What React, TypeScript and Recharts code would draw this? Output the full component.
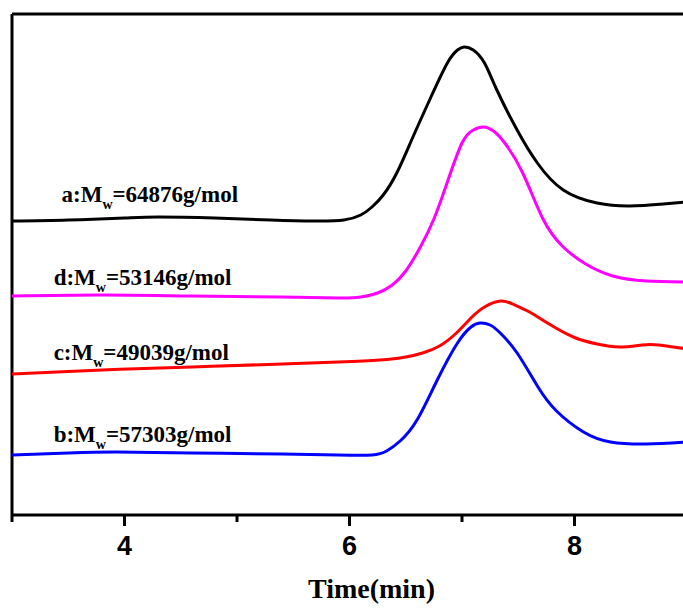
import {
  Line,
  LineChart,
  ReferenceDot,
  ReferenceLine,
  XAxis,
  YAxis,
} from 'recharts';

// GPC traces, time (min) vs detector signal (offset per sample)
const timeTicks = [3, 4, 5, 6, 7, 8, 9];
const majorTicks = [4, 6, 8];

const aTime = [3.0, 3.5, 4.0, 4.3, 4.8, 5.3, 5.7, 5.95, 6.1, 6.2, 6.3, 6.42, 6.56, 6.72, 6.87, 6.96, 7.02, 7.1, 7.2, 7.31, 7.49, 7.67, 7.9, 8.2, 8.49, 8.79, 9.0];
const aSignal = [294, 295, 297, 298, 297, 295, 294, 295, 300, 308, 320, 342, 377, 417, 452, 465, 468, 465, 452, 425, 385, 352, 325, 312, 309, 311, 313];

const dTime = [3.0, 3.8, 4.6, 5.4, 5.9, 6.1, 6.25, 6.38, 6.5, 6.63, 6.75, 6.87, 7.0, 7.1, 7.19, 7.28, 7.38, 7.54, 7.72, 7.9, 8.1, 8.34, 8.64, 9.0];
const dSignal = [219, 220, 219, 218, 217, 218, 222, 230, 244, 268, 296, 333, 372, 385, 388, 384, 372, 342, 296, 268, 251, 239, 234, 233];

const cTime = [3.0, 3.8, 4.6, 5.4, 5.9, 6.27, 6.5, 6.65, 6.8, 6.95, 7.08, 7.2, 7.34, 7.45, 7.6, 7.76, 7.99, 8.2, 8.4, 8.6, 8.75, 9.0];
const cSignal = [141, 145, 148, 151, 153, 155, 158, 162, 169, 182, 197, 208, 214, 211, 203, 192, 178, 171, 168, 170, 170, 166];

const bTime = [3.0, 3.5, 3.93, 4.6, 5.4, 5.9, 6.2, 6.33, 6.45, 6.6, 6.78, 6.96, 7.08, 7.16, 7.25, 7.34, 7.49, 7.67, 7.84, 8.08, 8.32, 8.64, 9.0];
const bSignal = [60, 62, 63, 62, 61, 60, 60, 64, 74, 95, 135, 172, 188, 192, 190, 182, 162, 129, 104, 83, 73, 71, 73];

const samples = [
  { id: 'a', mw: '64876', color: '#000000', time: aTime, signal: aSignal, labelAt: [3.44, 313] },
  { id: 'd', mw: '53146', color: '#ff00ff', time: dTime, signal: dSignal, labelAt: [3.37, 230] },
  { id: 'c', mw: '49039', color: '#ff0000', time: cTime, signal: cSignal, labelAt: [3.37, 155] },
  { id: 'b', mw: '57303', color: '#0000ff', time: bTime, signal: bSignal, labelAt: [3.37, 73] },
];

const serif = '"Liberation Serif", "Times New Roman", serif';
const sans = '"Liberation Sans", Arial, sans-serif';

function TimeTick(props: any) {
  const { x, y, payload } = props;
  const major = majorTicks.includes(payload.value);
  return (
    <g>
      <line x1={x} x2={x} y1={y} y2={y + (major ? 11 : 7)} stroke="#000" strokeWidth={3} />
      {major && (
        <text x={x} y={y + 40} textAnchor="middle" fontFamily={sans} fontWeight="bold" fontSize={27} fill="#000">
          {payload.value}
        </text>
      )}
    </g>
  );
}

function AxisTitle(props: any) {
  const { viewBox } = props;
  const cx = viewBox.x + viewBox.width / 2 + 22;
  return (
    <text x={cx} y={viewBox.y + 83} textAnchor="middle" fontFamily={serif} fontWeight="bold" fontSize={28} fill="#000">
      Time(min)
    </text>
  );
}

function MwLabel(props: any) {
  const { viewBox, id, mw } = props;
  return (
    <text x={viewBox.x} y={viewBox.y} fontFamily={serif} fontWeight="bold" fontSize={23} fill="#000">
      {id}:M
      <tspan fontSize={14} dy={7}>w</tspan>
      <tspan dy={-7}>={mw}g/mol</tspan>
    </text>
  );
}

export default function App() {
  return (
    <div style={{ position: 'fixed', left: 0, top: 0, width: 683, height: 610, overflow: 'hidden', background: '#fff' }}>
      <LineChart width={700} height={610} margin={{ top: 14, right: 13, bottom: 0, left: 12 }}>
        <XAxis
          type="number"
          dataKey="t"
          domain={[3, 9]}
          ticks={timeTicks}
          allowDataOverflow
          height={95}
          axisLine={{ stroke: '#000', strokeWidth: 3 }}
          tickLine={false}
          tickSize={0}
          tickMargin={0}
          tick={<TimeTick />}
          label={<AxisTitle />}
        />
        <YAxis type="number" dataKey="v" domain={[0, 501]} hide allowDataOverflow />
        <ReferenceLine x={3} stroke="#000" strokeWidth={3} />
        <ReferenceLine y={501} stroke="#000" strokeWidth={3} />
        {samples.map((s) => (
          <Line
            key={s.id}
            data={s.time.map((t, i) => ({ t, v: s.signal[i] }))}
            dataKey="v"
            type="natural"
            stroke={s.color}
            strokeWidth={3}
            dot={false}
            isAnimationActive={false}
          />
        ))}
        {samples.map((s) => (
          <ReferenceDot
            key={'lbl-' + s.id}
            x={s.labelAt[0]}
            y={s.labelAt[1]}
            r={0}
            fill="none"
            stroke="none"
            label={<MwLabel id={s.id} mw={s.mw} />}
          />
        ))}
      </LineChart>
    </div>
  );
}
